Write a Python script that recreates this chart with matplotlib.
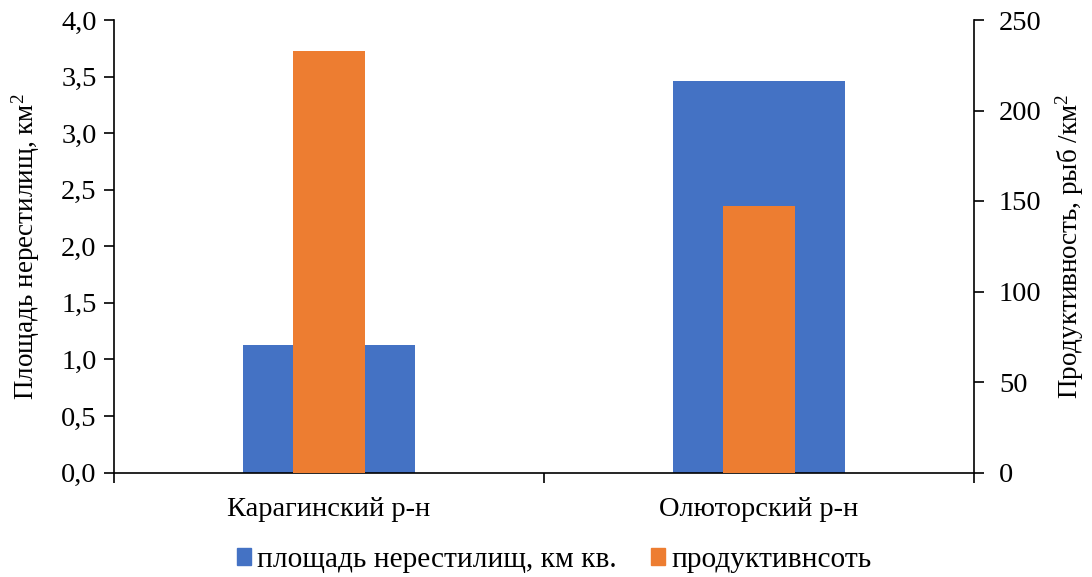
import matplotlib
matplotlib.use("Agg")
import matplotlib.pyplot as plt
from matplotlib.ticker import FuncFormatter, FixedLocator
from matplotlib.patches import Patch

plt.rcParams['font.family'] = ['Liberation Serif', 'DejaVu Serif']
plt.rcParams['mathtext.fontset'] = 'custom'
plt.rcParams['mathtext.rm'] = 'Liberation Serif'
plt.rcParams['mathtext.it'] = 'Liberation Serif'

# Data
regions = ["Карагинский р-н", "Олюторский р-н"]
area_km2 = [1.13, 3.46]          # площадь нерестилищ, км кв.
productivity = [233, 147]        # продуктивность, рыб/км²
series_names = ["площадь нерестилищ, км кв.", "продуктивнсоть"]

blue = "#4472C4"
orange = "#ED7D31"
fs = 20.5
fs_legend = 21.2
fs_label = 19.5

fig = plt.figure(figsize=(10.92, 5.77), dpi=100)
ax = fig.add_axes([114/1092, 1 - 472.5/577, (974 - 114)/1092, (472.5 - 20)/577])
ax2 = ax.twinx()

x = list(range(len(regions)))
ax.bar(x, area_km2, width=0.398, color=blue, zorder=2)
ax2.bar(x, productivity, width=0.167, color=orange, zorder=3)

ax.set_xlim(-0.5, 1.5)
ax.set_ylim(0, 4.0)
ax2.set_ylim(0, 250)

ax.set_yticks([i * 0.5 for i in range(9)])
ax.yaxis.set_major_formatter(FuncFormatter(lambda v, p: f"{v:.1f}".replace(".", ",")))
ax2.set_yticks(range(0, 251, 50))

ax.set_xticks(x)
ax.set_xticklabels(regions)
ax.xaxis.set_minor_locator(FixedLocator([-0.5, 0.5, 1.5]))
ax.tick_params(axis='x', which='major', length=0, pad=18, labelsize=fs)
ax.tick_params(axis='x', which='minor', length=7, width=1.2, direction='out')
ax.tick_params(axis='y', length=7, width=1.2, labelsize=fs, pad=5.5)
ax2.tick_params(axis='y', length=7, width=1.2, labelsize=fs, pad=11)

for a in (ax, ax2):
    a.spines['top'].set_visible(False)
    for s in ('left', 'right', 'bottom'):
        a.spines[s].set_linewidth(1.2)
ax.spines['right'].set_visible(False)
ax2.spines['left'].set_visible(False)
ax2.spines['bottom'].set_visible(False)

ax.set_ylabel("Площадь нерестилищ, км$^2$", fontsize=fs_label)
ax2.set_ylabel("Продуктивность, рыб /км$^2$", fontsize=fs_label)
ax.yaxis.set_label_coords(-0.084, 0.5)
ax2.yaxis.set_label_coords(1.092, 0.5)

handles = [Patch(color=blue), Patch(color=orange)]
fig.legend(handles, series_names, loc='center', bbox_to_anchor=(554/1092, 1 - 560/577),
           ncol=2, frameon=False, fontsize=fs_legend, handlelength=0.5, handleheight=0.5,
           handletextpad=0.2, columnspacing=1.15)

fig.savefig("out.png", dpi=100)
